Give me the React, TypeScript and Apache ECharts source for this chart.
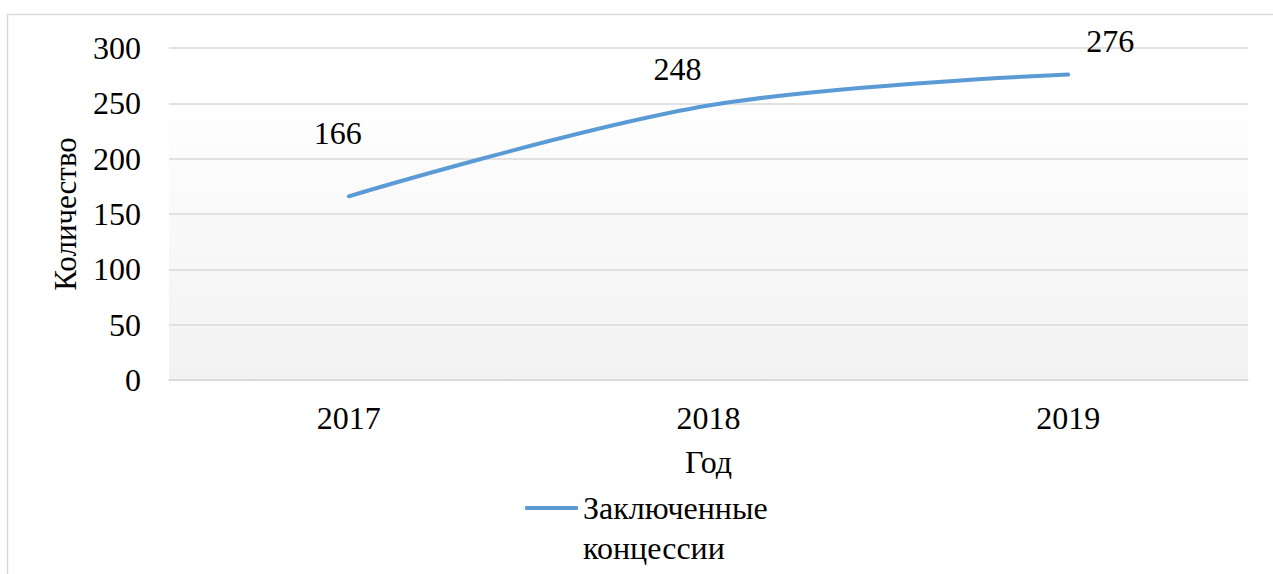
import React, { useEffect, useRef } from "react";
import * as echarts from "echarts";

const categories = ["2017", "2018", "2019"];
const seriesName = "Заключенные концессии";
const values = [166, 248, 276];
const yTicks = [0, 50, 100, 150, 200, 250, 300];
const xAxisTitle = "Год";
const yAxisTitle = "Количество";

// label offsets (style only)
const labelOffsets = [
  [-11, -42],
  [-31, -16],
  [42, -13],
];

const FONT = "Liberation Serif";

export default function App() {
  const ref = useRef<HTMLDivElement>(null);
  useEffect(() => {
    if (!ref.current) return;
    const chart = echarts.init(ref.current, undefined, { renderer: "svg" });
    chart.setOption({
      animation: false,
      backgroundColor: "#ffffff",
      textStyle: { fontFamily: FONT, color: "#000" },
      graphic: [
        {
          type: "rect",
          shape: { x: 7.5, y: 14.5, width: 1300, height: 600 },
          style: { fill: "none", stroke: "#d9d9d9", lineWidth: 1.5 },
          silent: true,
          z: -10,
        },
      ],
      grid: {
        left: 169,
        right: 25,
        top: 48,
        bottom: 194,
        show: true,
        borderWidth: 0,
        backgroundColor: new echarts.graphic.LinearGradient(0, 0, 0, 1, [
          { offset: 0, color: "#ffffff" },
          { offset: 0.12, color: "#ffffff" },
          { offset: 1, color: "#f2f2f2" },
        ]),
      },
      xAxis: {
        type: "category",
        data: categories,
        boundaryGap: true,
        name: xAxisTitle,
        nameLocation: "middle",
        nameGap: 66,
        nameTextStyle: { fontSize: 32, fontFamily: FONT, color: "#000" },
        axisLine: { show: true, lineStyle: { color: "#d9d9d9", width: 1.5 } },
        axisTick: { show: false },
        axisLabel: { fontSize: 32, fontFamily: FONT, color: "#000", margin: 22 },
      },
      yAxis: {
        type: "value",
        min: yTicks[0],
        max: yTicks[yTicks.length - 1],
        interval: yTicks[1] - yTicks[0],
        name: yAxisTitle,
        nameLocation: "middle",
        nameGap: 88,
        nameTextStyle: { fontSize: 31, fontFamily: FONT, color: "#000" },
        axisLine: { show: false },
        axisTick: { show: false },
        axisLabel: { fontSize: 32, fontFamily: FONT, color: "#000", margin: 28 },
        splitLine: { lineStyle: { color: "#d9d9d9", width: 1.5 } },
      },
      legend: {
        show: true,
        left: 525,
        top: 448,
        padding: 0,
        itemWidth: 53,
        itemHeight: 4,
        icon: "roundRect",
        itemStyle: { color: "#5b9bd5", opacity: 1 },
        textStyle: {
          fontSize: 32,
          fontFamily: FONT,
          color: "#000",
          lineHeight: 40,
        },
        formatter: () => "\nЗаключенные\nконцессии",
      },
      series: [
        {
          type: "line",
          name: seriesName,
          data: values.map((v, i) => ({
            value: v,
            label: { offset: labelOffsets[i] },
          })),
          smooth: 0.35,
          symbol: "circle",
          symbolSize: 0,
          showSymbol: true,
          lineStyle: { color: "#5b9bd5", width: 4, cap: "round" },
          itemStyle: { color: "#5b9bd5" },
          label: {
            show: true,
            position: "top",
            fontSize: 32,
            fontFamily: FONT,
            color: "#000",
          },
        },
      ],
    });
    return () => chart.dispose();
  }, []);
  return (
    <div
      ref={ref}
      style={{ position: "absolute", left: 0, top: 0, width: 1273, height: 574 }}
    />
  );
}
